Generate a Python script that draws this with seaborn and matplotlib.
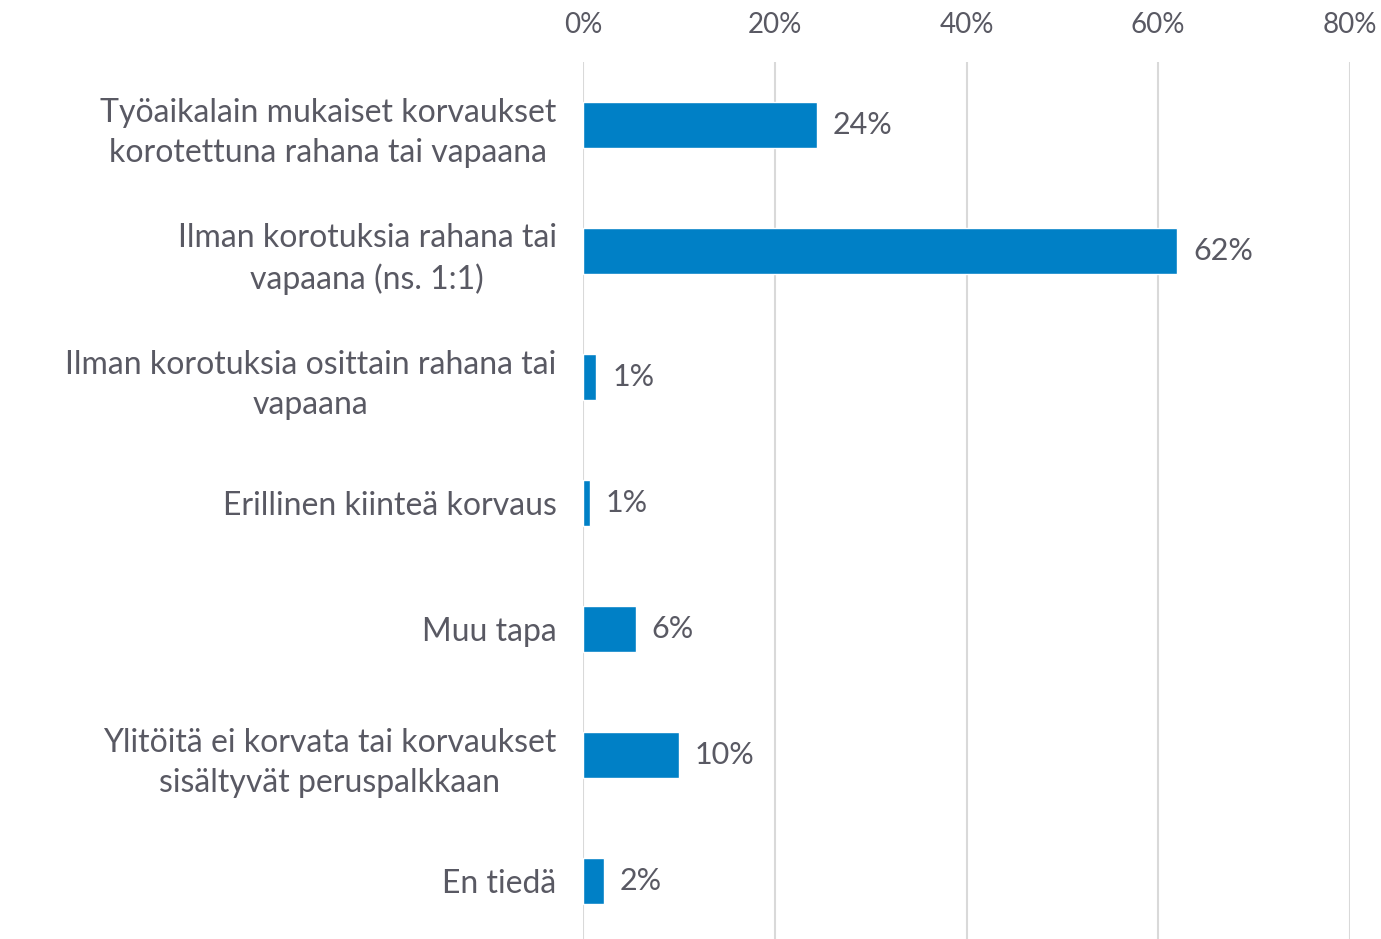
import pandas as pd
import matplotlib.pyplot as plt
import seaborn as sns

# Data
categories = [
    "Työaikalain mukaiset korvaukset\nkorotettuna rahana tai vapaana",
    "Ilman korotuksia rahana tai\nvapaana (ns. 1:1)",
    "Ilman korotuksia osittain rahana tai\nvapaana",
    "Erillinen kiinteä korvaus",
    "Muu tapa",
    "Ylitöitä ei korvata tai korvaukset\nsisältyvät peruspalkkaan",
    "En tiedä",
]
values = [24.4, 62.0, 1.4, 0.7, 5.5, 10.0, 2.2]
value_labels = ["24%", "62%", "1%", "1%", "6%", "10%", "2%"]
x_ticks = [0, 20, 40, 60, 80]
x_tick_labels = ["0%", "20%", "40%", "60%", "80%"]

df = pd.DataFrame({"Kategoria": categories, "Osuus": values})

sns.set_style("white")
plt.rcParams["font.family"] = ["Lato", "DejaVu Sans"]

text_color = "#595963"
bar_color = "#0080C6"

fig = plt.figure(figsize=(13.81, 9.39), dpi=100)
ax = fig.add_axes([583 / 1381, 0, (1350 - 583) / 1381, 1 - 62 / 939])

sns.barplot(data=df, x="Osuus", y="Kategoria", orient="h", color=bar_color,
            width=0.36, saturation=1, ax=ax, zorder=3)

ax.set_xlim(0, 80)
ax.set_ylim(6.46, -0.5)
ax.set_xticks(x_ticks)
ax.set_xticklabels(x_tick_labels, fontsize=20, color=text_color)
ax.xaxis.tick_top()
ax.tick_params(axis="x", length=0, pad=17)
ax.tick_params(axis="y", length=0, pad=19)
ax.set_yticks(range(len(categories)))
ax.set_yticklabels(categories, fontsize=23, color=text_color,
                   multialignment="center", linespacing=1.4)
ax.set_xlabel("")
ax.set_ylabel("")
ax.grid(axis="x", color="#d9d9d9", linewidth=1.5, zorder=0)
sns.despine(ax=ax, left=True, bottom=True, top=True, right=True)

for i, (v, lab) in enumerate(zip(values, value_labels)):
    ax.annotate(lab, (v, i), xytext=(16, 0), textcoords="offset pixels",
                va="center", ha="left", fontsize=22, color=text_color)

plt.savefig("out.png", dpi=100)
